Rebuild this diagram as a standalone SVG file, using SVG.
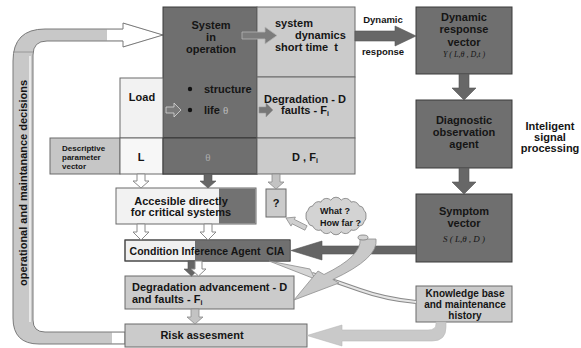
<svg xmlns="http://www.w3.org/2000/svg" width="581" height="348" viewBox="0 0 581 348">
<style>
text{font-family:"Liberation Sans",Arial,sans-serif;font-weight:bold;fill:#151515}
.t11{font-size:11px}
.t10{font-size:10px}
.t8{font-size:8px}
.c{text-anchor:middle}
.dark{fill:#6f6f6f;stroke:#3a3a3a;stroke-width:1}
.light{fill:#cbcbcb;stroke:#6a6a6a;stroke-width:1}
.pale{fill:#f2f2f2;stroke:#6a6a6a;stroke-width:1}
.hollow{fill:#ffffff;stroke:#8a8a8a;stroke-width:1}
.darkarrow{fill:#676767;stroke:#555;stroke-width:0.6}
.greyarrow{fill:#c3c3c3;stroke:#8a8a8a;stroke-width:0.8}
.math{font-family:"Liberation Serif","Times New Roman",serif;font-style:italic;font-weight:normal}
</style>

<g id="feedback-loop">
  <path d="M123 29 L45 29 Q13 29 13 61 L13 318 Q13 344 39 344 L125 344 L125 332 L45 332 Q33 332 33 320 L33 55 Q33 41 47 41 L123 41 L123 47 L163 35 L123 23 Z" fill="#c8c8c8"/>
  <rect x="107" y="29.5" width="17" height="11" fill="#fff"/>
  <polygon points="123,23.5 162,35 123,46.5" fill="#fff"/>
  <rect x="112" y="332.5" width="13" height="11" fill="#fff"/>
  <path d="M123 29 L45 29 Q13 29 13 61 L13 318 Q13 344 39 344 L125 344 L125 332 L45 332 Q33 332 33 320 L33 55 Q33 41 47 41 L123 41 L123 47 L163 35 L123 23 Z" fill="none" stroke="#7a7a7a" stroke-width="1"/>
  <line x1="30" y1="56" x2="30" y2="322" stroke="#fff" stroke-width="1.2"/>
  <line x1="13" y1="52" x2="33" y2="52" stroke="#8a8a8a" stroke-width="0.8"/>
  <text class="t11 c" transform="translate(27,183) rotate(-90)">operational and maintanance decisions</text>
</g>

<g id="system-in-operation">
  <rect x="163" y="7" width="94" height="167" class="dark" stroke-width="1.5"/>
  <text class="t11 c" x="211" y="29">System</text>
  <text class="t11 c" x="211" y="41">in</text>
  <text class="t11 c" x="211" y="53">operation</text>
  <circle cx="190" cy="89" r="2.2" fill="#111"/>
  <text class="t11" x="204" y="93">structure</text>
  <circle cx="190" cy="110" r="2.2" fill="#111"/>
  <text class="t11" x="204" y="114">life <tspan class="math" fill="#bbb" style="font-style:normal">θ</tspan></text>
  <polygon points="166,107 174,107 174,103 181,110 174,117 174,113 166,113" fill="#7a7a7a" stroke="#d8d8d8" stroke-width="0.8"/>
  <line x1="163" y1="138" x2="257" y2="138" stroke="#222" stroke-width="1"/>
</g>

<g id="system-dynamics">
  <rect x="257" y="7" width="98" height="70" class="light"/>
  <text class="t11" x="275" y="27">system</text>
  <text class="t11" x="295" y="39">dynamics</text>
  <text class="t11" x="275" y="51" xml:space="preserve">short time  t</text>
</g>

<g id="degradation">
  <rect x="257" y="77" width="98" height="61" class="light"/>
  <text class="t11 c" x="305" y="103">Degradation - D</text>
  <text class="t11 c" x="305" y="114">faults - F<tspan font-size="7" dy="2">i</tspan></text>
  <polygon points="259,107 266,107 266,103 273,110 266,117 266,113 259,113" fill="#777" stroke="#999" stroke-width="0.6"/>
</g>

<g id="load">
  <rect x="120" y="78" width="43" height="60" class="pale"/>
  <text class="t11 c" x="142" y="101">Load</text>
</g>

<g id="descriptive-vector">
  <rect x="50" y="138" width="70" height="36" fill="#c6c6c6" stroke="#6a6a6a"/>
  <text class="t8" x="62" y="151">Descriptive</text>
  <text class="t8" x="62" y="160">parameter</text>
  <text class="t8" x="62" y="169">vector</text>
</g>
<g id="param-L">
  <rect x="120" y="138" width="43" height="36" fill="#f7f7f7" stroke="#6a6a6a"/>
  <text class="t11 c" x="141" y="161">L</text>
</g>
<g id="param-theta">
  <rect x="163" y="138" width="94" height="36" class="dark" stroke-width="1.5"/>
  <text class="c" x="208" y="161" style="font-family:'Liberation Serif',serif;font-weight:normal;font-size:11px;fill:#aaa">θ</text>
</g>
<g id="param-D">
  <rect x="257" y="138" width="98" height="36" class="light"/>
  <text class="t11 c" x="305" y="161">D , F<tspan font-size="7" dy="2">i</tspan></text>
</g>

<g id="dynamic-response-vector">
  <rect x="416" y="7" width="96" height="67" class="dark"/>
  <text class="t11 c" x="464" y="21">Dynamic</text>
  <text class="t11 c" x="464" y="33">response</text>
  <text class="t11 c" x="464" y="46">vector</text>
  <text class="math c" x="464" y="57" font-size="8" fill="#9c9c9c">Y ( L,θ , D,t )</text>
</g>

<g id="diagnostic-agent">
  <rect x="416" y="100" width="96" height="68" class="dark"/>
  <text class="t11 c" x="464" y="124">Diagnostic</text>
  <text class="t11 c" x="464" y="136">observation</text>
  <text class="t11 c" x="464" y="148">agent</text>
</g>

<g id="signal-processing-label">
  <text class="t11 c" x="550" y="130">Inteligent</text>
  <text class="t11 c" x="550" y="141">signal</text>
  <text class="t11 c" x="550" y="152">processing</text>
</g>

<g id="symptom-vector">
  <rect x="416" y="194" width="96" height="68" class="dark"/>
  <text class="t11 c" x="464" y="215">Symptom</text>
  <text class="t11 c" x="464" y="227">vector</text>
  <text class="math c" x="464" y="242" font-size="9" fill="#505050">S ( L,θ , D )</text>
</g>

<g id="knowledge-base">
  <rect x="416" y="286" width="96" height="36" class="light"/>
  <text class="t10 c" x="465" y="297">Knowledge base</text>
  <text class="t10 c" x="465" y="308">and maintenance</text>
  <text class="t10 c" x="465" y="319">history</text>
</g>

<g id="accessible-directly">
  <rect x="116" y="188" width="140" height="36" fill="#f2f2f2" stroke="#6a6a6a"/>
  <rect x="219" y="188.5" width="36.5" height="35" fill="#727272"/>
  <text class="t11 c" x="181" y="205">Accesible directly</text>
  <text class="t11 c" x="181" y="216">for critical systems</text>
</g>

<g id="unknown">
  <rect x="266" y="189" width="20" height="28" class="light"/>
  <text class="t11 c" x="276" y="207">?</text>
</g>

<g id="condition-inference-agent">
  <rect x="125" y="240" width="165" height="21" fill="#f0f0f0" stroke="#555"/>
  <rect x="195" y="240.5" width="94.5" height="20" fill="#707070"/>
  <rect x="125" y="240" width="165" height="21" fill="none" stroke="#444"/>
  <text class="c" x="207" y="255" font-size="10.5" xml:space="preserve">Condition Inference Agent  CIA</text>
</g>

<g id="degradation-advancement">
  <rect x="125" y="276" width="169" height="33" class="light"/>
  <text class="t11" x="132" y="291">Degradation advancement - D</text>
  <text class="t11" x="132" y="303">and faults - F<tspan font-size="7" dy="2">i</tspan></text>
</g>

<g id="risk-assessment">
  <rect x="125" y="324" width="182" height="23" class="light"/>
  <text class="t11 c" x="202" y="339">Risk assesment</text>
</g>

<g id="connectors">
  <polygon points="242,32 265,32 265,27 277,35.5 265,44 265,39 242,39" fill="#7c7c7c" stroke="#b5b5b5" stroke-width="0.8"/>
  <polygon points="355,31 395,31 395,26 416,36 395,46 395,41 355,41" class="darkarrow"/>
  <text class="c" x="383" y="23" font-size="9.5">Dynamic</text>
  <text class="c" x="383" y="55" font-size="9.5">response</text>
  <polygon points="459,74 469,74 469,88 476,88 464,100 452,88 459,88" class="darkarrow"/>
  <polygon points="459,168 469,168 469,182 476,182 464,194 452,182 459,182" class="darkarrow"/>
  <polygon points="137,174 145,174 145,181 149,181 141,188 133,181 137,181" class="hollow"/>
  <polygon points="204,174 212,174 212,181 216,181 208,188 200,181 204,181" fill="#666" stroke="#555" stroke-width="0.6"/>
  <polygon points="272,174 280,174 280,182 284,182 276,189 268,182 272,182" class="greyarrow"/>
  <polygon points="137,224 145,224 145,232 149,232 141,240 133,232 137,232" class="hollow"/>
  <polygon points="204,224 212,224 212,232 216,232 208,240 200,232 204,232" class="hollow"/>
  <polygon points="188,261 195,261 195,269 199,269 191.5,276 184,269 188,269" fill="#666" stroke="#555" stroke-width="0.6"/>
  <polygon points="195,261 202,261 202,269 206,269 198.5,276 191,269 195,269" class="hollow"/>
  <polygon points="191,309 199,309 199,317 203,317 195,324 187,317 191,317" class="greyarrow"/>
  <polygon points="416,246 322,246 322,241 291,250.5 322,260 322,254 416,254" fill="#656565" stroke="#555" stroke-width="0.6"/>
  <path d="M416 302 Q385 299 360 290 Q335 281 312 274" fill="none" stroke="#8a8a8a" stroke-width="4"/>
  <path d="M416 302 Q385 299 360 290 Q335 281 312 274" fill="none" stroke="#e6e6e6" stroke-width="2"/>
  <polygon points="310,269 315,279 269,261" fill="#d5d5d5" stroke="#8a8a8a" stroke-width="0.8"/>
  <path d="M436 322 L436 324 Q436 330 428 330 L342 330 L342 325 L307 335.5 L342 346 L342 341 L432 341 Q446 341 446 327 L446 322 Z" fill="#c9c9c9" stroke="#b8b8b8" stroke-width="0.6"/>
  <polygon points="286,218 295.4,217.1 294.3,219.4 307.1,225.8 304.9,230.2 292.1,223.8 291,226.1" fill="#cfcfcf" stroke="#8a8a8a" stroke-width="0.8"/>
  <path d="M360 239 Q362 256 324 274.5 L318 271 L294 300 L339 283 L332.8 279.5 Q379 258 376 239 Z" fill="#c9c9c9" stroke="#8e8e8e" stroke-width="0.8"/>
</g>

<g id="thought-cloud">
  <path d="M366 216 A6 6 0 0 1 364.2 221.5 A6 6 0 0 1 359 226.3 A6 6 0 0 1 351 229.9 A6 6 0 0 1 341.2 231.8 A6 6 0 0 1 330.8 231.8 A6 6 0 0 1 321 229.9 A6 6 0 0 1 313 226.3 A6 6 0 0 1 307.8 221.5 A6 6 0 0 1 306 216 A6 6 0 0 1 307.8 210.5 A6 6 0 0 1 313 205.7 A6 6 0 0 1 321 202.1 A6 6 0 0 1 330.8 200.2 A6 6 0 0 1 341.2 200.2 A6 6 0 0 1 351 202.1 A6 6 0 0 1 359 205.7 A6 6 0 0 1 364.2 210.5 A6 6 0 0 1 366 216 Z" fill="#d3d3d3" stroke="#7a7a7a" stroke-width="0.8"/>
  <ellipse cx="363" cy="237.5" rx="5" ry="2.5" fill="#d3d3d3" stroke="#7a7a7a" stroke-width="0.8"/>
  <text x="320" y="214" font-size="9">What ?</text>
  <text x="320" y="226" font-size="9">How far ?</text>
</g>
</svg>
